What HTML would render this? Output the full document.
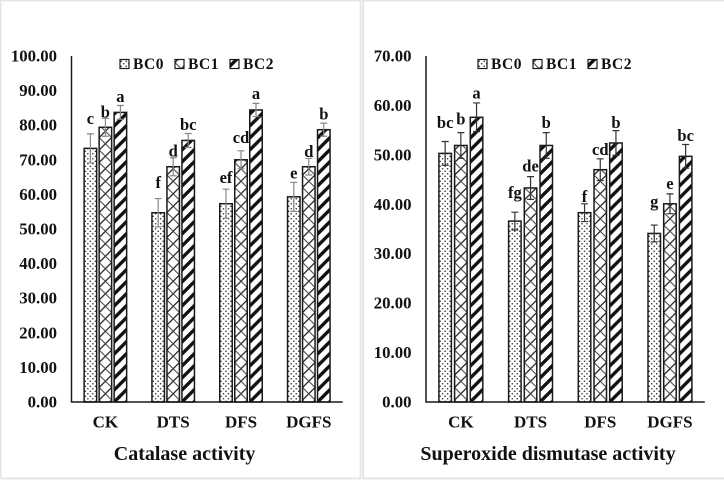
<!DOCTYPE html>
<html lang="en">
<head>
<meta charset="utf-8">
<title>Catalase and superoxide dismutase activity</title>
<style>
html,body{margin:0;padding:0;background:#fff;width:724px;height:481px;overflow:hidden}
svg{display:block}
text{font-family:"Liberation Serif",serif;font-weight:bold;fill:#111}
</style>
</head>
<body>
<svg id="chart" width="724" height="481" viewBox="0 0 724 481" xmlns="http://www.w3.org/2000/svg">
<defs>
<pattern id="p0" patternUnits="userSpaceOnUse" width="5" height="5">
<rect width="5" height="5" fill="#fff"/>
<circle cx="1.2" cy="1.2" r=".75" fill="#222"/>
<circle cx="3.7" cy="3.7" r=".75" fill="#222"/>
</pattern>
<pattern id="p1" patternUnits="userSpaceOnUse" width="12.5" height="12.5">
<rect width="12.5" height="12.5" fill="#fff"/>
<path d="M0 12.5L12.5 0" stroke="#222" stroke-width="1.3"/>
<path d="M0 0L12.5 12.5" stroke="#444" stroke-width="1"/>
</pattern>
<pattern id="p2" patternUnits="userSpaceOnUse" width="12" height="12">
<rect width="12" height="12" fill="#fff"/>
<path d="M-3 9L9 -3M-3 21L21 -3M3 15L15 3" stroke="#111" stroke-width="3.4"/>
</pattern>
</defs>
<rect width="724" height="481" fill="#fff"/>
<rect x="0.5" y="0.5" width="360" height="478" fill="none" stroke="#e4e4e4" stroke-width="1.8"/>
<rect x="363" y="0.5" width="365" height="478" fill="none" stroke="#e4e4e4" stroke-width="1.8"/>
<g id="root"></g>
</svg>
<script>
var categories = ["CK", "DTS", "DFS", "DGFS"];
var seriesNames = ["BC0", "BC1", "BC2"];

var catalaseTicks = ["0.00","10.00","20.00","30.00","40.00","50.00","60.00","70.00","80.00","90.00","100.00"];
var catalaseBC0 = [73.3, 54.7, 57.3, 59.3];
var catalaseBC1 = [79.4, 68.0, 70.0, 68.0];
var catalaseBC2 = [83.7, 75.6, 84.4, 78.7];
var catalaseErrBC0 = [4.2, 4.1, 4.2, 4.2];
var catalaseErrBC1 = [2.6, 2.6, 2.6, 2.4];
var catalaseErrBC2 = [2.0, 2.0, 1.9, 1.9];
var catalaseLettersBC0 = ["c", "f", "ef", "e"];
var catalaseLettersBC1 = ["b", "d", "cd", "d"];
var catalaseLettersBC2 = ["a", "bc", "a", "b"];

var sodTicks = ["0.00","10.00","20.00","30.00","40.00","50.00","60.00","70.00"];
var sodBC0 = [50.3, 36.6, 38.3, 34.1];
var sodBC1 = [51.9, 43.3, 47.0, 40.1];
var sodBC2 = [57.6, 51.9, 52.4, 49.7];
var sodErrBC0 = [2.4, 1.8, 1.8, 1.7];
var sodErrBC1 = [2.6, 2.3, 2.2, 2.0];
var sodErrBC2 = [2.9, 2.6, 2.5, 2.4];
var sodLettersBC0 = ["bc", "fg", "f", "g"];
var sodLettersBC1 = ["b", "de", "cd", "e"];
var sodLettersBC2 = ["a", "b", "b", "bc"];

var NS = "http://www.w3.org/2000/svg";
var root = document.getElementById("root");

function make(tag, attrs, parent, txt) {
  var el = document.createElementNS(NS, tag);
  for (var k in attrs) { el.setAttribute(k, attrs[k]); }
  if (txt !== undefined) { el.textContent = txt; }
  parent.appendChild(el);
  return el;
}

function drawChart(cfg) {
  var g = make("g", {}, root);
  
  
  var maxVal = parseFloat(cfg.ticks[cfg.ticks.length - 1]);
  function yScale(v) { return cfg.y0 - v / maxVal * (cfg.y0 - cfg.yTop); }
  function xBand(i) { return cfg.x0 + cfg.band * (i + 0.5); }
  function xBar(i, s) { return xBand(i) + (s - 1) * cfg.step - cfg.barW / 2; }

  cfg.ticks.forEach(function (t) {
    var label = make("text", { x: cfg.x0 - 14.5, y: yScale(parseFloat(t)) + 5.5, "text-anchor": "end", "font-size": 16.8 }, g, t);
    
    
  });

  cfg.values.forEach(function (series, s) {
    series.forEach(function (v, i) {
      var top = yScale(v);
      var bar = make("rect", { x: 0, y: top, width: cfg.barW, height: cfg.y0 - top, transform: "translate(" + xBar(i, s) + " 0)", fill: "url(#p" + s + ")", stroke: "#1a1a1a", "stroke-width": 1.5 }, g);
      
      
      var cx = xBar(i, s) + cfg.barW / 2;
      var e = cfg.errors[s][i];
      var eTop = yScale(v + e);
      var eBot = yScale(v - e);
      var err = make("path", { d: "M" + cx + " " + eBot + "V" + eTop + "M" + (cx - 3.5) + " " + eTop + "H" + (cx + 3.5) + "M" + (cx - 3.5) + " " + eBot + "H" + (cx + 3.5), stroke: cfg.errColor, "stroke-width": 1.2, fill: "none" }, g);
      
      
      var letter = make("text", { x: cx, y: eTop - cfg.letterGaps[s][i], "text-anchor": "middle", "font-size": 16.5 }, g, cfg.letters[s][i]);
      
      
    });
  });

  var axes = make("path", { d: "M" + cfg.x0 + " " + cfg.yTop + "V" + cfg.y0 + "H" + (cfg.x0 + cfg.band * categories.length), stroke: "#1a1a1a", "stroke-width": 1.5, fill: "none" }, g);
  
  

  categories.forEach(function (c, i) {
    var label = make("text", { x: xBand(i), y: 427.5, "text-anchor": "middle", "font-size": 17 }, g, c);
    
    
  });

  seriesNames.forEach(function (n, s) {
    var lx = cfg.legendX + s * cfg.legendStep;
    var key = make("rect", { x: 0, y: 59.5, width: 9, height: 9, transform: "translate(" + lx + " 0)", fill: "url(#p" + s + ")", stroke: "#1a1a1a", "stroke-width": 1.2 }, g);
    
    
    var label = make("text", { x: lx + 13, y: 69, "font-size": 15.5, "letter-spacing": 0.6 }, g, n);
    
    
  });

  var title = make("text", { x: cfg.titleX, y: 460, "text-anchor": "middle", "font-size": 20 }, g, cfg.title);
  
  
}

drawChart({
  name: "catalase-chart", title: "Catalase activity", ticks: catalaseTicks,
  values: [catalaseBC0, catalaseBC1, catalaseBC2],
  errors: [catalaseErrBC0, catalaseErrBC1, catalaseErrBC2],
  letters: [catalaseLettersBC0, catalaseLettersBC1, catalaseLettersBC2],
  letterGaps: [[10, 10.4, 6.3, 4], [1, 1, 7.7, 1.6], [3.6, 3.3, 4.3, 3.7]],
  errColor: "#888",
  x0: 71.5, y0: 402, yTop: 56, band: 67.8, step: 15, barW: 12.5,
  legendX: 120, legendStep: 55, titleX: 184.6
});
drawChart({
  name: "superoxide-dismutase-chart", title: "Superoxide dismutase activity", ticks: sodTicks,
  values: [sodBC0, sodBC1, sodBC2],
  errors: [sodErrBC0, sodErrBC1, sodErrBC2],
  letters: [sodLettersBC0, sodLettersBC1, sodLettersBC2],
  letterGaps: [[13.6, 14, 2, 18], [8.3, 5, 4, 4.7], [4.7, 4.6, 2.4, 3.3]],
  errColor: "#333",
  x0: 426, y0: 402, yTop: 56, band: 69.7, step: 15.7, barW: 12.5,
  legendX: 478, legendStep: 55, titleX: 548
});
</script>
</body>
</html>
